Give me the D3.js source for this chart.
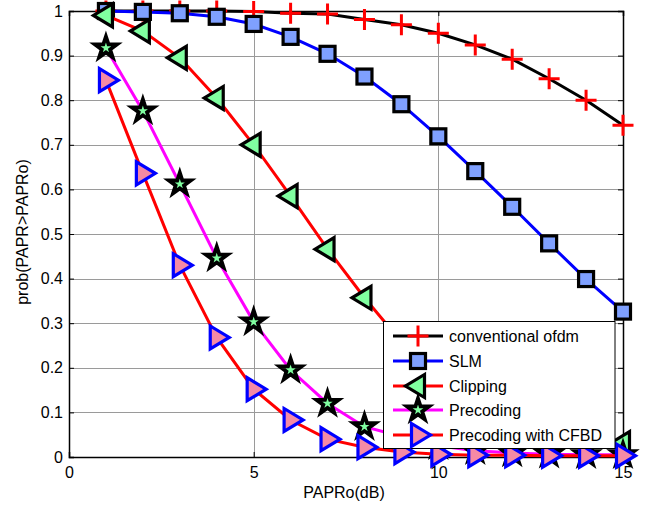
<!DOCTYPE html>
<html><head><meta charset="utf-8">
<script src="https://cdn.jsdelivr.net/npm/d3@7"></script>
<style>body{margin:0;background:#fff}svg{display:block}text{font-family:Arial,"Liberation Sans",sans-serif}</style>
</head><body><svg id="c" width="646" height="506"></svg>
<script>
const xVals = [1,2,3,4,5,6,7,8,9,10,11,12,13,14,15];
const convOfdm = [1, 1, 1, 1, 0.999, 0.995, 0.993, 0.981, 0.969, 0.950, 0.924, 0.892, 0.848, 0.800, 0.744];
const slm = [1.0, 0.998, 0.995, 0.987, 0.971, 0.942, 0.904, 0.853, 0.791, 0.719, 0.641, 0.561, 0.479, 0.399, 0.326];
const clipping = [0.99, 0.955, 0.895, 0.805, 0.70, 0.585, 0.466, 0.357, 0.258, 0.18, 0.12, 0.08, 0.055, 0.04, 0.031];
const precoding = [0.917, 0.776, 0.612, 0.446, 0.303, 0.195, 0.12, 0.068, 0.046, 0.025, 0.014, 0.009, 0.006, 0.005, 0.005];
const cfbd = [0.845, 0.636, 0.43, 0.268, 0.152, 0.083, 0.04, 0.022, 0.011, 0.006, 0.004, 0.004, 0.003, 0.003, 0.003];
const seriesNames = ["conventional ofdm","SLM","Clipping","Precoding","Precoding with CFBD"];
const xTicks = [0,5,10,15];
const yTicks = [0,0.1,0.2,0.3,0.4,0.5,0.6,0.7,0.8,0.9,1];
const yTickLabels = ["0","0.1","0.2","0.3","0.4","0.5","0.6","0.7","0.8","0.9","1"];

const series = [
  {name: seriesNames[0], vals: convOfdm, color: "#000", marker: "plus"},
  {name: seriesNames[1], vals: slm, color: "#0000ff", marker: "square"},
  {name: seriesNames[2], vals: clipping, color: "#ff0000", marker: "left"},
  {name: seriesNames[3], vals: precoding, color: "#ff00ff", marker: "star"},
  {name: seriesNames[4], vals: cfbd, color: "#ff0000", marker: "right"}
];

const svg = d3.select("#c");
const L = 69, R = 623, T = 11, B = 457;
const x = d3.scaleLinear().domain([0,15]).range([L,R]);
const y = d3.scaleLinear().domain([0,1]).range([B,T]);

// grid
const grid = svg.append("g").attr("stroke","#9a9a9a").attr("stroke-width",1);
yTicks.slice(1,-1).forEach(v => grid.append("line").attr("x1",L).attr("x2",R).attr("y1",Math.round(y(v))+0.5).attr("y2",Math.round(y(v))+0.5));
xTicks.slice(1,-1).forEach(v => grid.append("line").attr("y1",T).attr("y2",B).attr("x1",Math.round(x(v))+0.5).attr("x2",Math.round(x(v))+0.5));

// axes
const fs = "16px";
const ax = svg.append("g").attr("transform",`translate(0,${B})`)
  .call(d3.axisBottom(x).tickValues(xTicks).tickSize(-5).tickPadding(10).tickFormat(d3.format("d")));
const ay = svg.append("g").attr("transform",`translate(${L},0)`)
  .call(d3.axisLeft(y).tickValues(yTicks).tickSize(-5).tickPadding(6).tickFormat((d,i)=>yTickLabels[i]));
const ax2 = svg.append("g").attr("transform",`translate(0,${T})`)
  .call(d3.axisTop(x).tickValues(xTicks).tickSize(-5).tickFormat(""));
const ay2 = svg.append("g").attr("transform",`translate(${R},0)`)
  .call(d3.axisRight(y).tickValues(yTicks).tickSize(-5).tickFormat(""));
[ax,ay,ax2,ay2].forEach(g=>{
  g.selectAll("text").attr("font-size",fs).attr("fill","#000").attr("font-family","Arial, Liberation Sans, sans-serif");
  g.select(".domain").attr("stroke","#000").attr("stroke-width",1.5);
  g.selectAll(".tick line").attr("stroke","#000");
});

// labels
svg.append("text").attr("x",344).attr("y",498).attr("text-anchor","middle").attr("font-size","16px").text("PAPRo(dB)");
svg.append("text").attr("transform","translate(28,232) rotate(-90)").attr("text-anchor","middle").attr("font-size","16px").text("prob(PAPR>PAPRo)");

function starPath(R1, r1){
  let p = [];
  for(let i=0;i<10;i++){
    const a = -Math.PI/2 + i*Math.PI/5;
    const rr = i%2===0 ? R1 : r1;
    p.push([rr*Math.cos(a), rr*Math.sin(a)]);
  }
  return "M"+p.map(q=>q[0].toFixed(2)+","+q[1].toFixed(2)).join("L")+"Z";
}
function drawMarker(g, type, cx, cy){
  const m = g.append("g").attr("transform",`translate(${cx},${cy})`);
  if(type==="plus"){
    m.append("path").attr("d","M-10.5,0H10.5M0,-10.5V10.5").attr("stroke","#ff0000").attr("stroke-width",3).attr("fill","none");
  } else if(type==="square"){
    m.append("rect").attr("x",-7.5).attr("y",-7.5).attr("width",15).attr("height",15)
      .attr("fill","#7fa0ff").attr("stroke","#000").attr("stroke-width",3.2);
  } else if(type==="left"){
    m.append("path").attr("d","M6.5,-11.5L6.5,11.5L-12.5,0Z")
      .attr("fill","#80ffa0").attr("stroke","#000").attr("stroke-width",3.2).attr("stroke-linejoin","miter");
  } else if(type==="right"){
    m.append("path").attr("d","M-6.5,-11.5L-6.5,11.5L12.5,0Z")
      .attr("fill","#f58aa5").attr("stroke","#0000ff").attr("stroke-width",3.2).attr("stroke-linejoin","miter");
  } else if(type==="star"){
    m.append("path").attr("d",starPath(11.5,4.4))
      .attr("fill","#80ffa0").attr("stroke","#000").attr("stroke-width",3.8).attr("stroke-linejoin","miter");
  }
}

const line = d3.line().x((d,i)=>x(xVals[i])).y(d=>y(d));
const plot = svg.append("g");
series.forEach(s=>{
  plot.append("path").datum(s.vals).attr("d",line).attr("fill","none").attr("stroke",s.color).attr("stroke-width",3);
  s.vals.forEach((v,i)=>drawMarker(plot, s.marker, x(xVals[i]), y(v)));
});

// legend
const lg = svg.append("g");
lg.append("rect").attr("x",383.5).attr("y",321.5).attr("width",231.5).attr("height",127).attr("fill","#fff").attr("stroke","#000").attr("stroke-width",1);
const rowY = [336,361,386,410,435];
series.forEach((s,i)=>{
  const ry = rowY[i];
  lg.append("line").attr("x1",393).attr("x2",443).attr("y1",ry).attr("y2",ry).attr("stroke",s.color).attr("stroke-width",3);
  drawMarker(lg, s.marker, 418, ry);
  lg.append("text").attr("x",449).attr("y",ry+5.5).attr("font-size","16px").text(s.name);
});
</script></body></html>
